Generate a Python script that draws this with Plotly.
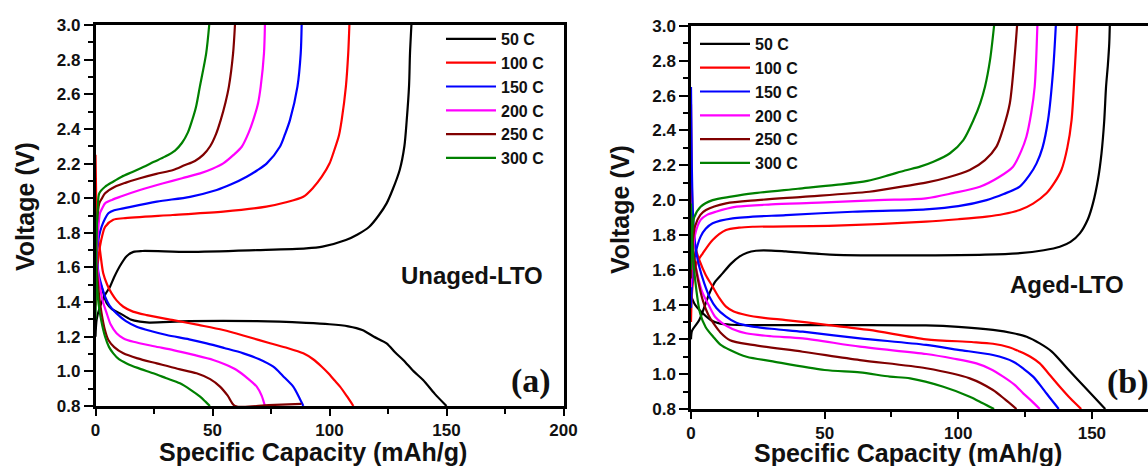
import plotly.graph_objects as go

W, H = 1148, 466

rates = ["50 C", "100 C", "150 C", "200 C", "250 C", "300 C"]
colors = ["#000000", "#FF0000", "#0000FF", "#FF00FF", "#800000", "#008000"]

# ---------------- Panel (a): Unaged-LTO  (capacity mAh/g, voltage V) ----------------
a50_charge = [(0, 1.2), (0.5, 1.3), (1.9, 1.373), (4, 1.44), (6.2, 1.489), (8, 1.545), (10.5, 1.61),
              (13.3, 1.665), (16.2, 1.69), (20, 1.695), (40, 1.69), (69, 1.70), (90, 1.71), (97, 1.72),
              (107, 1.758), (112, 1.79), (117, 1.835), (121, 1.9), (124.4, 1.97), (127, 2.05),
              (130, 2.163), (132, 2.3), (133, 2.45), (134, 2.65), (134.4, 2.836), (135, 3.0)]
a50_discharge = [(0, 1.65), (1, 1.55), (3, 1.47), (4.8, 1.393), (7, 1.36), (10.5, 1.335), (15, 1.3),
                 (19, 1.287), (23, 1.282), (40, 1.29), (69, 1.29), (90, 1.28), (100, 1.272), (108, 1.26),
                 (114, 1.239), (119, 1.2), (124.4, 1.162), (128, 1.11), (131.5, 1.066), (136, 1.0),
                 (140, 0.95), (145, 0.87), (150, 0.8)]
a100_charge = [(0, 1.38), (0.4, 1.55), (1.2, 1.65), (1.9, 1.72), (3, 1.79), (4.1, 1.835), (7.6, 1.875),
               (11.9, 1.884), (33, 1.903), (54.6, 1.922), (73, 1.951), (81, 1.975), (88.8, 2.008),
               (93, 2.06), (96.7, 2.124), (100, 2.2), (101.6, 2.259), (104, 2.36), (105.2, 2.451),
               (107, 2.644), (108, 2.836), (108.5, 3.0)]
a100_discharge = [(0, 2.25), (0.3, 2.0), (0.8, 1.8), (1.9, 1.70), (3.3, 1.566), (5, 1.5), (6.9, 1.45),
                  (9, 1.41), (11.9, 1.373), (16, 1.345), (21.9, 1.325), (33.2, 1.296), (44, 1.268),
                  (54.6, 1.239), (65, 1.2), (74.6, 1.162), (82, 1.135), (88.8, 1.104), (93, 1.07),
                  (96.7, 1.027), (99.5, 0.989), (102, 0.95), (104.5, 0.912), (107.5, 0.855), (110.2, 0.8)]
a150_charge = [(0, 1.6), (0.8, 1.72), (1.5, 1.78), (2.6, 1.835), (4, 1.88), (5.5, 1.913), (8, 1.93),
               (11.9, 1.941), (26.2, 1.98), (40.4, 2.008), (51.8, 2.047), (58, 2.08), (64.6, 2.124),
               (69, 2.16), (73.2, 2.201), (78.8, 2.297), (81, 2.37), (83.1, 2.451), (86.3, 2.644),
               (87.7, 2.836), (88.1, 3.0)]
a150_discharge = [(0, 1.75), (0.6, 1.65), (1.3, 1.566), (2.5, 1.5), (4.1, 1.431), (6, 1.38), (9, 1.335),
                  (13, 1.29), (17.6, 1.258), (24, 1.232), (30.4, 1.21), (40, 1.185), (47.5, 1.162),
                  (55, 1.135), (63.2, 1.104), (70, 1.07), (76, 1.027), (80, 0.975), (84.5, 0.912),
                  (87, 0.85), (88.8, 0.8)]
a200_charge = [(0, 1.62), (0.8, 1.75), (1.9, 1.913), (3, 1.945), (4.1, 1.97), (7, 1.99), (10.5, 2.008),
               (19, 2.047), (29, 2.086), (37, 2.115), (44.7, 2.143), (50, 2.17), (54.6, 2.201),
               (59, 2.25), (62.5, 2.297), (65.5, 2.38), (67.4, 2.451), (69.5, 2.55), (70.6, 2.644),
               (72, 2.836), (72.4, 3.0)]
a200_discharge = [(0, 1.72), (0.8, 1.6), (1.9, 1.489), (3.2, 1.4), (4.8, 1.335), (6.5, 1.27), (9, 1.22),
                  (12, 1.19), (16.2, 1.171), (25, 1.145), (33.2, 1.123), (42, 1.095), (50.3, 1.066),
                  (55.5, 1.04), (60.3, 1.008), (65, 0.96), (68.9, 0.912), (71, 0.86), (72.4, 0.8)]
a250_charge = [(0, 1.65), (0.6, 1.85), (1.6, 1.97), (2.8, 2.0), (4.1, 2.028), (8.3, 2.066), (13, 2.09),
               (19, 2.115), (26, 2.14), (33.2, 2.163), (38, 2.19), (42.5, 2.215), (46, 2.25),
               (49, 2.3), (51.5, 2.37), (53.5, 2.451), (55.5, 2.55), (57, 2.644), (58.8, 2.836),
               (59.6, 3.0)]
a250_discharge = [(0, 1.7), (0.8, 1.55), (1.6, 1.43), (2.6, 1.335), (4, 1.24), (5.5, 1.181), (8, 1.14),
                  (11.9, 1.104), (18, 1.075), (26.2, 1.046), (35, 1.015), (43.2, 0.989), (49, 0.955),
                  (53.2, 0.912), (56.5, 0.86), (59.6, 0.8), (74, 0.805), (88, 0.812)]
a300_charge = [(0, 1.3), (0.3, 1.6), (0.6, 1.85), (1.0, 1.95), (1.6, 2.028), (4.1, 2.066), (7.5, 2.095),
               (11.2, 2.124), (15.5, 2.15), (20.4, 2.18), (25, 2.21), (29.7, 2.24), (34, 2.275),
               (37, 2.32), (39.5, 2.38), (41.3, 2.45), (43, 2.53), (44.6, 2.644), (47.3, 2.836),
               (48.6, 3.0)]
a300_discharge = [(0, 1.66), (0.6, 1.5), (1.3, 1.393), (2.5, 1.29), (4.1, 1.2), (5.8, 1.14), (7.6, 1.104),
                  (10, 1.07), (13.3, 1.046), (18, 1.02), (24.7, 0.989), (30, 0.962), (36.1, 0.931),
                  (40.5, 0.895), (44.7, 0.854), (47, 0.825), (48.9, 0.8)]

# ---------------- Panel (b): Aged-LTO ----------------
b50_charge = [(0, 1.2), (0.4, 1.25), (3.1, 1.311), (6.9, 1.465), (9, 1.53), (11.8, 1.579), (15, 1.635),
              (18.1, 1.675), (21, 1.698), (24.3, 1.709), (30, 1.71), (35.5, 1.705), (54.2, 1.685),
              (87.9, 1.683), (110, 1.687), (123, 1.695), (132, 1.712), (138, 1.732), (142, 1.76),
              (145.5, 1.809), (148.5, 1.89), (150.4, 1.981), (152.3, 2.12), (153.6, 2.269),
              (154.6, 2.45), (155.3, 2.65), (156.0, 2.78), (156.5, 2.9), (156.7, 3.0)]
b50_discharge = [(0, 1.45), (1.5, 1.40), (4.4, 1.35), (7.5, 1.31), (10.6, 1.292), (15, 1.284), (23.1, 1.282),
                 (60.5, 1.282), (87.9, 1.28), (100, 1.272), (113, 1.254), (120.6, 1.235), (125.6, 1.215),
                 (130.5, 1.177), (135, 1.13), (141, 1.03), (148, 0.915), (155, 0.8)]
b100_charge = [(0, 1.3), (0.3, 1.45), (1, 1.56), (2.2, 1.64), (4.4, 1.694), (8.1, 1.771), (13.1, 1.828),
               (18, 1.842), (23.1, 1.847), (54.2, 1.853), (87.9, 1.876), (100, 1.89), (110.6, 1.905),
               (117, 1.92), (123, 1.943), (128, 1.98), (133, 2.039), (136, 2.1), (138.6, 2.173),
               (140.8, 2.3), (142.4, 2.46), (143.6, 2.747), (144.5, 3.0)]
b100_discharge = [(0, 2.55), (0.3, 2.1), (0.8, 1.85), (1.8, 1.72), (3.1, 1.656), (5.5, 1.57), (8.1, 1.503),
                  (10.5, 1.44), (13.1, 1.388), (16, 1.36), (20.6, 1.34), (28, 1.322), (35.5, 1.311),
                  (50, 1.285), (66.7, 1.254), (88, 1.2), (105, 1.185), (113, 1.175), (119, 1.155),
                  (123, 1.13), (127, 1.1), (130.5, 1.062), (134, 1.0), (138, 0.928), (142, 0.86),
                  (146, 0.8)]
b150_charge = [(0, 1.38), (0.5, 1.55), (1.5, 1.68), (3.6, 1.79), (5.5, 1.835), (8.1, 1.867), (15.6, 1.895),
               (35.5, 1.914), (60.5, 1.933), (87.9, 1.947), (100, 1.965), (110.6, 2.0), (117, 2.035),
               (123, 2.077), (126.5, 2.14), (129.3, 2.211), (131.5, 2.3), (133.6, 2.46), (135.5, 2.747),
               (136.5, 3.0)]
b150_discharge = [(0, 2.65), (0.3, 2.2), (0.8, 1.9), (1.8, 1.72), (3.1, 1.617), (5, 1.52), (6.9, 1.445),
                  (9.5, 1.38), (13.1, 1.33), (17, 1.295), (23.1, 1.273), (32, 1.258), (41.8, 1.244),
                  (63.2, 1.206), (88, 1.168), (100, 1.14), (113, 1.11), (120.6, 1.072), (124.5, 1.03),
                  (128, 0.986), (131.5, 0.92), (134.5, 0.86), (137.6, 0.8)]
b200_charge = [(0, 1.5), (0.5, 1.65), (1.5, 1.8), (3.6, 1.886), (6, 1.915), (9.3, 1.933), (17.1, 1.962),
               (30, 1.975), (48, 1.985), (70, 2.0), (87.9, 2.01), (98, 2.04), (108.1, 2.077),
               (115, 2.13), (120.5, 2.192), (123.5, 2.28), (125.5, 2.364), (127.3, 2.5), (128.6, 2.651),
               (129.6, 3.0)]
b200_discharge = [(0, 1.8), (0.8, 1.7), (2, 1.6), (4, 1.48), (6.9, 1.388), (9, 1.33), (11.8, 1.292),
                  (15.5, 1.26), (20.6, 1.235), (30, 1.218), (41.8, 1.206), (63.2, 1.158), (88, 1.116),
                  (98, 1.09), (106.8, 1.062), (112, 1.03), (116.8, 0.986), (121, 0.94), (124.3, 0.89),
                  (127.5, 0.845), (130.5, 0.8)]
b250_charge = [(0, 1.55), (0.5, 1.72), (1.5, 1.85), (3.5, 1.915), (5.6, 1.943), (13.1, 1.981), (25, 2.0),
               (41.8, 2.019), (66.7, 2.048), (80, 2.08), (87.9, 2.1), (96, 2.13), (104.3, 2.173),
               (110, 2.23), (114.3, 2.307), (117, 2.42), (119.3, 2.556), (121.2, 2.843), (122, 3.0)]
b250_discharge = [(0, 1.85), (0.8, 1.72), (2.5, 1.55), (4.5, 1.42), (6.5, 1.34), (8.5, 1.29), (11, 1.24),
                  (14.6, 1.195), (23.1, 1.168), (41.8, 1.129), (63.2, 1.081), (88, 1.034), (104.3, 0.976),
                  (113, 0.909), (117.5, 0.855), (121.8, 0.8)]
b300_charge = [(0, 1.6), (0.4, 1.8), (1.2, 1.9), (3.6, 1.962), (8.1, 2.0), (15, 2.02), (23.1, 2.039),
               (40, 2.065), (54.2, 2.087), (66, 2.11), (74.4, 2.145), (80, 2.17), (85.7, 2.192),
               (90.7, 2.22), (96.9, 2.269), (101.9, 2.345), (105.7, 2.46), (108.2, 2.556), (110, 2.651),
               (111.9, 2.805), (113.4, 3.0)]
b300_discharge = [(0, 1.98), (0.5, 1.75), (1.5, 1.55), (3.4, 1.35), (5.5, 1.27), (8.3, 1.215), (11, 1.17),
                  (14.6, 1.139), (20.8, 1.1), (30, 1.075), (50, 1.024), (63.2, 1.01), (74.4, 0.986),
                  (82, 0.976), (94.4, 0.928), (104.3, 0.871), (109, 0.835), (113.4, 0.8)]

panel_a = [(a50_charge, a50_discharge), (a100_charge, a100_discharge), (a150_charge, a150_discharge),
           (a200_charge, a200_discharge), (a250_charge, a250_discharge), (a300_charge, a300_discharge)]
panel_b = [(b50_charge, b50_discharge), (b100_charge, b100_discharge), (b150_charge, b150_discharge),
           (b200_charge, b200_discharge), (b250_charge, b250_discharge), (b300_charge, b300_discharge)]

x_ticks = [0, 50, 100, 150, 200]
y_ticks = [0.8, 1.0, 1.2, 1.4, 1.6, 1.8, 2.0, 2.2, 2.4, 2.6, 2.8, 3.0]

# ---------------- figure ----------------
FONT = "Liberation Sans, Arial, sans-serif"


def px_x(p):
    return p / W


def px_y(p):
    return 1 - p / H


fig = go.Figure()


def curve(charge, discharge):
    xs = [p[0] for p in charge] + [None] + [p[0] for p in discharge]
    ys = [p[1] for p in charge] + [None] + [p[1] for p in discharge]
    return xs, ys


for i, (chg, dis) in enumerate(panel_a):
    xs, ys = curve(chg, dis)
    fig.add_trace(go.Scatter(x=xs, y=ys, mode="lines", name=rates[i],
                             line=dict(color=colors[i], width=2.2, shape="spline", smoothing=0.8),
                             connectgaps=False, xaxis="x", yaxis="y", legend="legend"))
for i, (chg, dis) in enumerate(panel_b):
    xs, ys = curve(chg, dis)
    fig.add_trace(go.Scatter(x=xs, y=ys, mode="lines", name=rates[i],
                             line=dict(color=colors[i], width=2.2, shape="spline", smoothing=0.8),
                             connectgaps=False, xaxis="x2", yaxis="y2", legend="legend2"))

tickfont = dict(family=FONT, size=17, color="#111", weight="bold")
common_x = dict(tickmode="array", tickvals=x_ticks, ticks="outside", ticklen=7, tickwidth=2,
                tickcolor="black", showline=True, linewidth=2.5, linecolor="black", showgrid=False,
                zeroline=False, tickfont=tickfont, automargin=False,
                minor=dict(dtick=25, tick0=0, ticks="outside", ticklen=5, tickwidth=2, tickcolor="black",
                           showgrid=False))
common_y = dict(tickmode="array", tickvals=y_ticks, ticktext=[f"{v:.1f}" for v in y_ticks],
                ticks="outside", ticklen=9, tickwidth=2, tickcolor="black", showline=True, linewidth=2.5,
                linecolor="black", showgrid=False, zeroline=False, tickfont=tickfont, automargin=False,
                range=[0.8, 3.0],
                minor=dict(dtick=0.1, tick0=0.8, ticks="outside", ticklen=5, tickwidth=2, tickcolor="black",
                           showgrid=False))

legend_font = dict(family=FONT, size=16, color="#111", weight="bold")
fig.update_layout(
    width=W, height=H,
    margin=dict(l=0, r=0, t=0, b=0),
    paper_bgcolor="white", plot_bgcolor="white",
    xaxis=dict(domain=[px_x(95.5), px_x(563.5)], range=[0, 200], anchor="y", mirror=True, **common_x),
    yaxis=dict(domain=[px_y(406), px_y(25)], anchor="x", mirror=True, **common_y),
    xaxis2=dict(domain=[px_x(691), 1.0], range=[0, 171], anchor="y2", mirror=True, **common_x),
    yaxis2=dict(domain=[px_y(409), px_y(26)], anchor="x2", mirror=False, **common_y),
    legend=dict(x=px_x(441), y=px_y(22), xanchor="left", yanchor="top", bgcolor="rgba(0,0,0,0)",
                font=legend_font, itemwidth=50, tracegroupgap=0),
    legend2=dict(x=px_x(695), y=px_y(27), xanchor="left", yanchor="top", bgcolor="rgba(0,0,0,0)",
                 font=legend_font, itemwidth=50, tracegroupgap=0),
    showlegend=True,
)

title_font = dict(family=FONT, size=25, color="#111", weight="bold")
label_font = dict(family=FONT, size=24, color="#111", weight="bold")
serif_font = dict(family="Liberation Serif, DejaVu Serif, serif", size=34, color="#111", weight="bold")
annotations = [
    dict(text="Voltage (V)", x=px_x(25), y=px_y(207), textangle=-90, font=title_font),
    dict(text="Voltage (V)", x=px_x(620), y=px_y(210), textangle=-90, font=title_font),
    dict(text="Specific Capacity (mAh/g)", x=px_x(313), y=px_y(452), font=title_font),
    dict(text="Specific Capacity (mAh/g)", x=px_x(908), y=px_y(453), font=title_font),
    dict(text="Unaged-LTO", x=px_x(472), y=px_y(275), font=label_font),
    dict(text="Aged-LTO", x=px_x(1067), y=px_y(284), font=label_font),
    dict(text="(a)", x=px_x(531), y=px_y(381), font=serif_font),
    dict(text="(b)", x=px_x(1105), y=px_y(382), xanchor="left", font=serif_font),
]
for a in annotations:
    a.setdefault("xanchor", "center")
    a.update(xref="paper", yref="paper", yanchor="middle", showarrow=False)
fig.update_layout(annotations=annotations)

fig.write_html("out.html")
